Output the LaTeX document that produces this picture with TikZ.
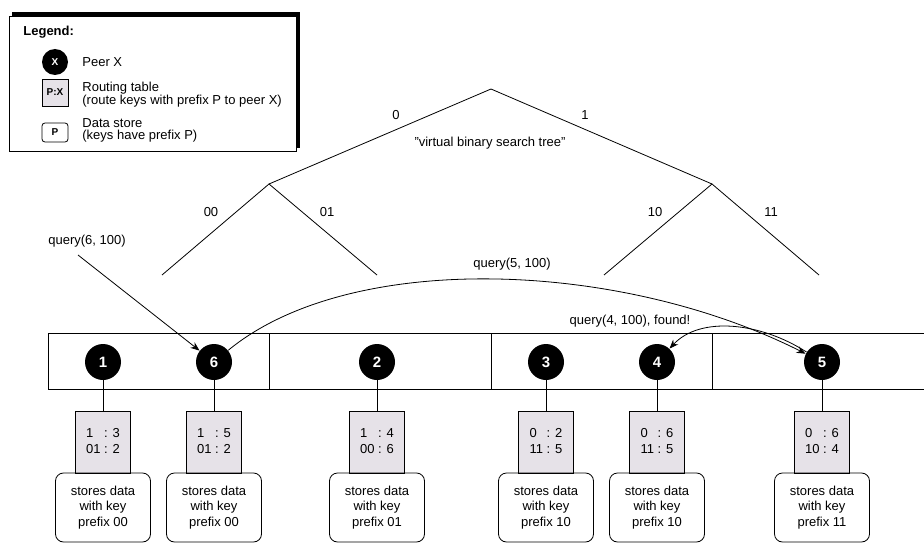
\documentclass[tikz,border=0pt]{standalone}
\usepackage{fontspec}
\setmainfont{Liberation Sans}
\usetikzlibrary{arrows.meta}
\definecolor{rtfill}{RGB}{230,226,232}
\begin{document}
\begin{tikzpicture}[x=1pt,y=-1pt,line width=0.8pt,
  peer/.style={circle,fill=black,minimum size=36pt,inner sep=0pt,text=white,font=\fontsize{15}{15}\selectfont\bfseries},
  rtable/.style={draw,fill=rtfill,minimum width=55pt,minimum height=62pt,inner sep=0pt,font=\fontsize{13}{16}\selectfont},
  store/.style={draw,rounded corners=8pt,minimum width=95pt,minimum height=69pt,inner sep=0pt,align=center,font=\fontsize{13}{15.5}\selectfont},
  lbl/.style={font=\fontsize{13}{15}\selectfont,inner sep=0pt},
  leg/.style={font=\fontsize{13}{12.5}\selectfont,inner sep=0pt,anchor=west,align=left},
  arr/.style={-{Stealth[length=9pt,width=7pt]}}]
\useasboundingbox (0,0) rectangle (924,543);

% ---------- legend ----------
\draw[line width=0.7pt] (9,16) rectangle (296,151);
\draw[line width=3.5pt] (12,14) -- (298,14) -- (298,148);
\node[leg,font=\fontsize{13}{14}\selectfont\bfseries] (legtitle) at (23,32) {Legend:};
\node[circle,fill=black,minimum size=26pt,inner sep=0pt,text=white,font=\fontsize{10}{10}\selectfont\bfseries] (legpeer) at (55,62) {X};
\node[leg] (legpeertxt) at (82,62) {Peer X};
\node[draw,fill=rtfill,minimum width=26pt,minimum height=27pt,inner sep=0pt,font=\fontsize{10}{10}\selectfont\bfseries] (legrt) at (55,92.5) {P:X};
\node[leg] (legrttxt) at (82,94.5) {Routing table\\(route keys with prefix P to peer X)};
\node[draw,rounded corners=3pt,minimum width=26pt,minimum height=19pt,inner sep=0pt,font=\fontsize{10}{10}\selectfont\bfseries] (legds) at (55,132.5) {P};
\node[leg] (legdstxt) at (82,130.5) {Data store\\(keys have prefix P)};

% ---------- virtual tree ----------
\coordinate (root) at (491,89);
\coordinate (t0) at (269,184);
\coordinate (t1) at (712,184);
\coordinate (t00) at (162,275);
\coordinate (t01) at (377,275);
\coordinate (t10) at (604,275);
\coordinate (t11) at (819,275);
\draw (t0) -- (root) -- (t1);
\draw (t00) -- (t0) -- (t01);
\draw (t10) -- (t1) -- (t11);
\node[lbl] (l0) at (396,115) {0};
\node[lbl] (l1) at (585,115) {1};
\node[lbl] (l00) at (211,212) {00};
\node[lbl] (l01) at (327,212) {01};
\node[lbl] (l10) at (655,212) {10};
\node[lbl] (l11) at (771,212) {11};
\node[lbl] (vbst) at (490,143) {"virtual binary search tree"};

% ---------- ring / bar ----------
\draw (924,333) -- (48,333) -- (48,389) -- (924,389);
\draw (269,333) -- (269,389);
\draw (491,333) -- (491,389);
\draw (712,333) -- (712,389);

% ---------- peers ----------
\foreach \n/\x/\a/\b/\c/\d/\p in {1/103/1/3/01/2/00, 6/214/1/5/01/2/00, 2/377/1/4/00/6/01, 3/546/0/2/11/5/10, 4/657/0/6/11/5/10, 5/822/0/6/10/4/11}{
  \node[peer] (n\n) at (\x,362) {\n};
  \node[rtable] (rt\n) at (\x,442) {\begin{tabular}{@{}l@{ : }l@{}}\a&\b\\\c&\d\end{tabular}};
  \node[store] (ds\n) at (\x,507.5) {stores data\\with key\\prefix \p};
  \draw (n\n) -- (rt\n);
}

% ---------- queries ----------
\coordinate (q6start) at (78,255);
\node[lbl] (q6) at (87,241) {query(6, 100)};
\draw[arr] (q6start) -- (n6);
\draw[arr] (n6) .. controls (350,250) and (620,260) .. (n5);
\node[lbl] (q5) at (512,264) {query(5, 100)};
\draw[arr] (n5) .. controls (760,322) and (700,316) .. (n4);
\node[lbl] (q4) at (630,321) {query(4, 100), found!};
\end{tikzpicture}
\end{document}
